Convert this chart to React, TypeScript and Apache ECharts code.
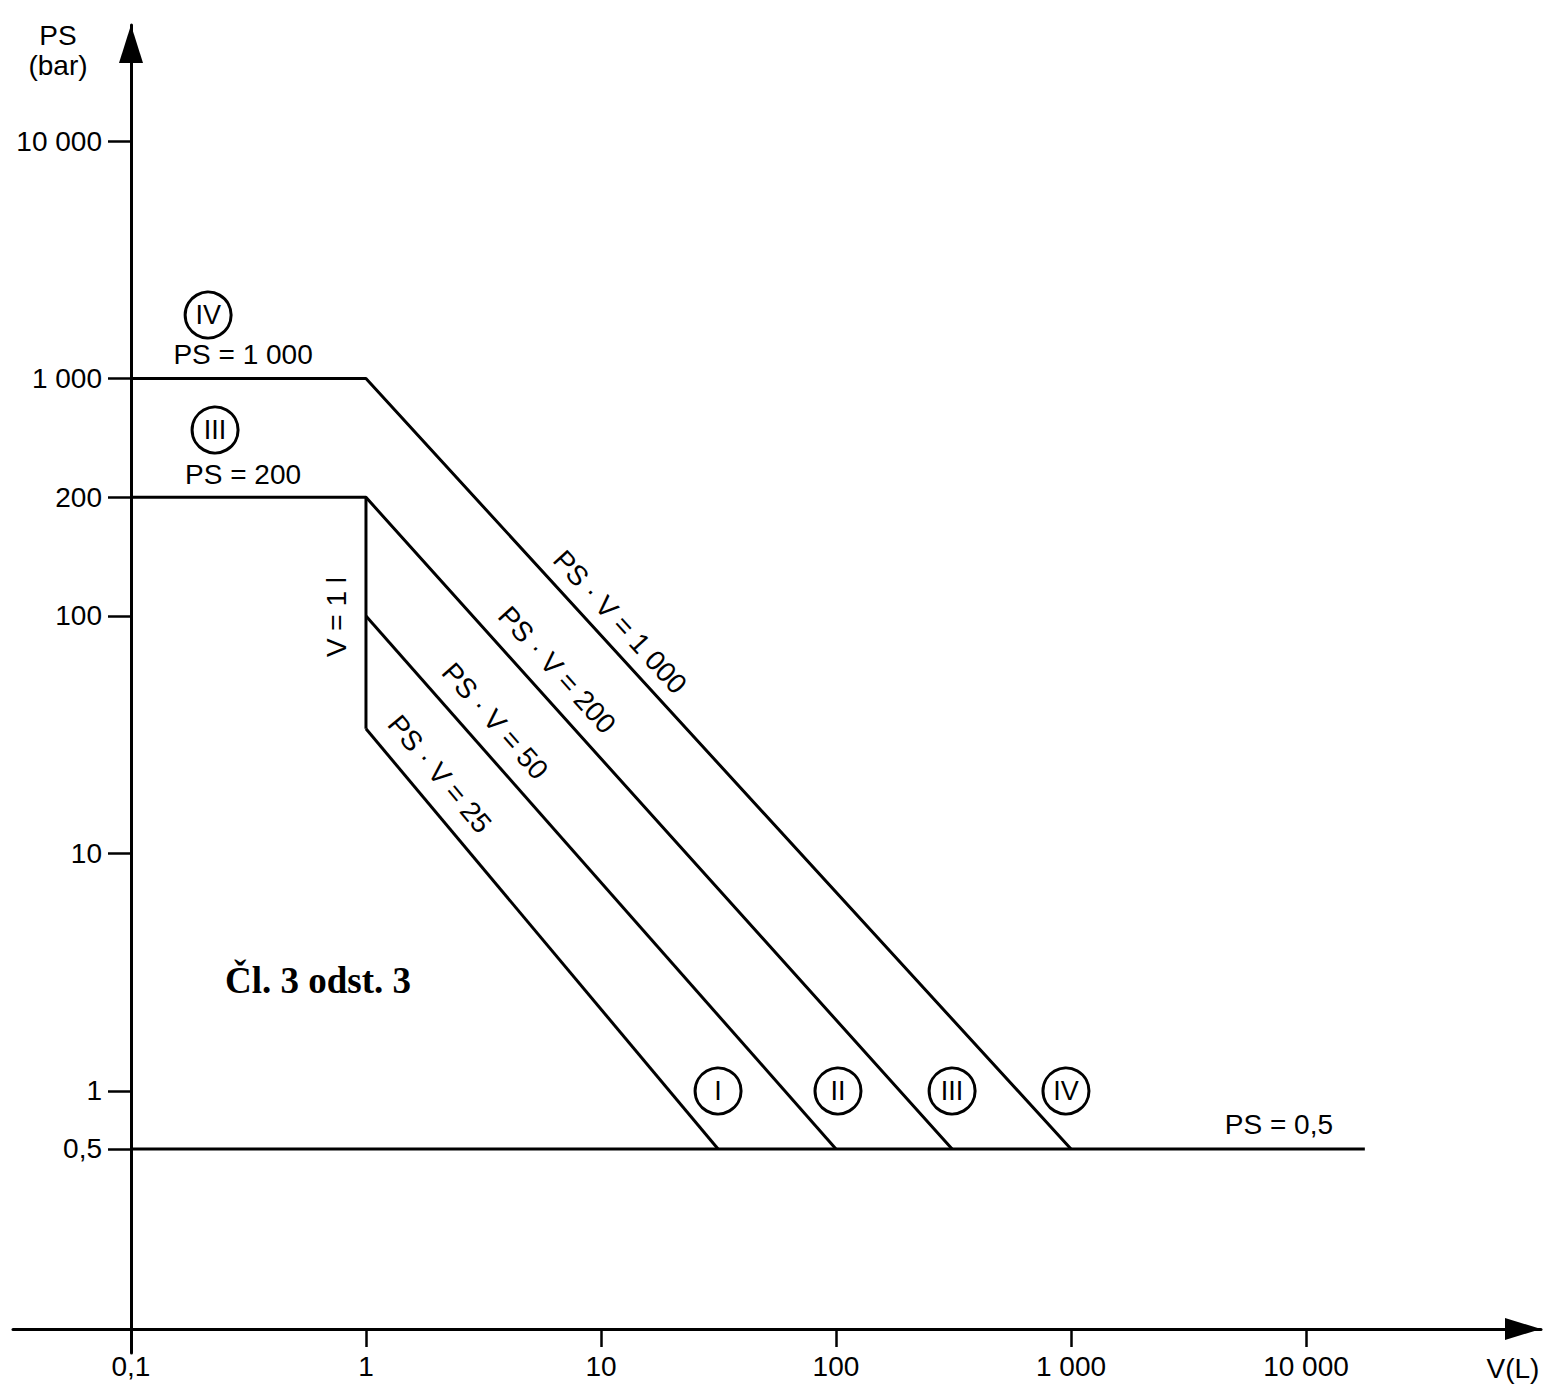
import React, { useEffect, useRef } from "react";
import * as echarts from "echarts";

// ---- axis ticks (values where the schematic diagram places its tick marks) ----
const xTickValues = [0.1, 1, 10, 100, 1000, 10000];
const xTickLabels = ["0,1", "1", "10", "100", "1 000", "10 000"];
const yTickValues = [0.57, 1, 10, 100, 316, 1000, 10000];
const yTickLabels = ["0,5", "1", "10", "100", "200", "1 000", "10 000"];

// ---- boundary lines: [V (L), PS (bar) as drawn in the schematic] ----
const lineIV = [[0.1, 1000], [1, 1000], [1000, 0.57]];
const lineIII = [[0.1, 316], [1, 316], [312, 0.57]];
const lineV1 = [[1, 316], [1, 33.5]];
const lineII = [[1, 100], [100, 0.57]];
const lineI = [[1, 33.5], [31.5, 0.57]];
const linePS05 = [[0.1, 0.57], [17800, 0.57]];

// ---- category markers (circled roman numerals) ----
const categoryNames = ["IV", "III", "I", "II", "III", "IV"];
const categoryV = [0.213, 0.228, 31.5, 102, 312, 952];
const categoryPS = [1850, 607, 1, 1, 1, 1];

// ---- annotations ----
const noteTexts = [
  "PS = 1 000",
  "PS = 200",
  "PS = 0,5",
  "V = 1 l",
  "PS · V = 1 000",
  "PS · V = 200",
  "PS · V = 50",
  "PS · V = 25",
];
const noteV = [0.3, 0.3, 7670, 0.75, 12.05, 6.5, 3.54, 2.06];
const notePS = [1256, 396, 0.72, 99, 94.4, 59.3, 36.1, 21.6];
const noteRotation = [0, 0, 0, 90, -47.6, -48.0, -48.65, -50.1];

const articleText = "Čl. 3 odst. 3";
const articleV = 0.625;
const articlePS = 2.93;

const FONT = "'Liberation Sans', Arial, Helvetica, sans-serif";
const SERIF = "'Liberation Serif', 'Times New Roman', serif";

function labelLookup(vals: number[], labels: string[]) {
  return (v: number) => {
    let best = 0;
    let bd = Infinity;
    vals.forEach((t, i) => {
      const d = Math.abs(Math.log10(v) - Math.log10(t));
      if (d < bd) {
        bd = d;
        best = i;
      }
    });
    return labels[best];
  };
}

function lineSeries(data: number[][]) {
  return {
    type: "line",
    data,
    symbol: "none",
    silent: true,
    lineStyle: { color: "#000", width: 3 },
    z: 2,
  };
}

export default function App() {
  const ref = useRef<HTMLDivElement>(null);

  useEffect(() => {
    const chart = echarts.init(ref.current!, null, { renderer: "svg" });
    const option: any = {
      animation: false,
      backgroundColor: "#fff",
      textStyle: { fontFamily: FONT, color: "#000" },
      grid: { left: 13, right: 20, top: 25, bottom: 47, containLabel: false },
      xAxis: {
        type: "log",
        logBase: 10,
        min: 0.03148,
        max: 100000,
        offset: -24,
        name: "V(L)",
        nameLocation: "end",
        nameGap: -28,
        nameTextStyle: {
          color: "#000",
          fontFamily: FONT,
          fontSize: 28,
          align: "center",
          verticalAlign: "top",
          padding: [25, 0, 0, 0],
        },
        axisLine: {
          show: true,
          lineStyle: { color: "#000", width: 3 },
          symbol: ["none", "triangle"],
          symbolSize: [22, 36],
          symbolOffset: [0, -18],
        },
        axisTick: {
          show: true,
          length: 18,
          lineStyle: { color: "#000", width: 2.5 },
          customValues: xTickValues,
        },
        axisLabel: {
          customValues: xTickValues,
          formatter: labelLookup(xTickValues, xTickLabels),
          margin: 23,
          color: "#000",
          fontSize: 28,
          fontFamily: FONT,
        },
        splitLine: { show: false },
        minorTick: { show: false },
      },
      yAxis: {
        type: "log",
        logBase: 10,
        min: 0.0788,
        max: 30800,
        offset: -118,
        name: "PS\n(bar)",
        nameLocation: "end",
        nameGap: 5,
        nameTextStyle: {
          color: "#000",
          fontFamily: FONT,
          fontSize: 28,
          lineHeight: 30,
          align: "center",
          verticalAlign: "top",
          padding: [0, 146, 0, 0],
        },
        axisLine: {
          show: true,
          lineStyle: { color: "#000", width: 3 },
          symbol: ["none", "triangle"],
          symbolSize: [24, 38],
          symbolOffset: [0, -19],
        },
        axisTick: {
          show: true,
          length: 23,
          lineStyle: { color: "#000", width: 2.5 },
          customValues: yTickValues,
        },
        axisLabel: {
          customValues: yTickValues,
          formatter: labelLookup(yTickValues, yTickLabels),
          margin: 29,
          color: "#000",
          fontSize: 28,
          fontFamily: FONT,
        },
        splitLine: { show: false },
        minorTick: { show: false },
      },
      series: [
        lineSeries(lineIV),
        lineSeries(lineIII),
        lineSeries(lineV1),
        lineSeries(lineII),
        lineSeries(lineI),
        lineSeries(linePS05),
        {
          type: "scatter",
          silent: true,
          z: 5,
          symbol: "circle",
          symbolSize: 46,
          itemStyle: { color: "#fff", borderColor: "#000", borderWidth: 3, opacity: 1 },
          label: {
            show: true,
            position: "inside",
            formatter: "{b}",
            color: "#000",
            fontSize: 27,
            fontFamily: FONT,
          },
          data: categoryNames.map((n, i) => ({
            name: n,
            value: [categoryV[i], categoryPS[i]],
          })),
        },
        {
          type: "scatter",
          silent: true,
          z: 6,
          symbol: "circle",
          symbolSize: 1,
          itemStyle: { color: "rgba(255,255,255,0)", opacity: 1 },
          label: {
            show: true,
            position: "inside",
            formatter: "{b}",
            color: "#000",
            fontSize: 28,
            fontFamily: FONT,
          },
          data: [
            ...noteTexts.map((t, i) => ({
              name: t,
              value: [noteV[i], notePS[i]],
              label: { rotate: noteRotation[i] },
            })),
            {
              name: articleText,
              value: [articleV, articlePS],
              label: {
                fontFamily: SERIF,
                fontWeight: "bold",
                fontSize: 37,
              },
            },
          ],
        },
      ],
    };
    chart.setOption(option);
    return () => chart.dispose();
  }, []);

  return (
    <div
      ref={ref}
      style={{ position: "absolute", left: 0, top: 0, width: 1561, height: 1400 }}
    />
  );
}
